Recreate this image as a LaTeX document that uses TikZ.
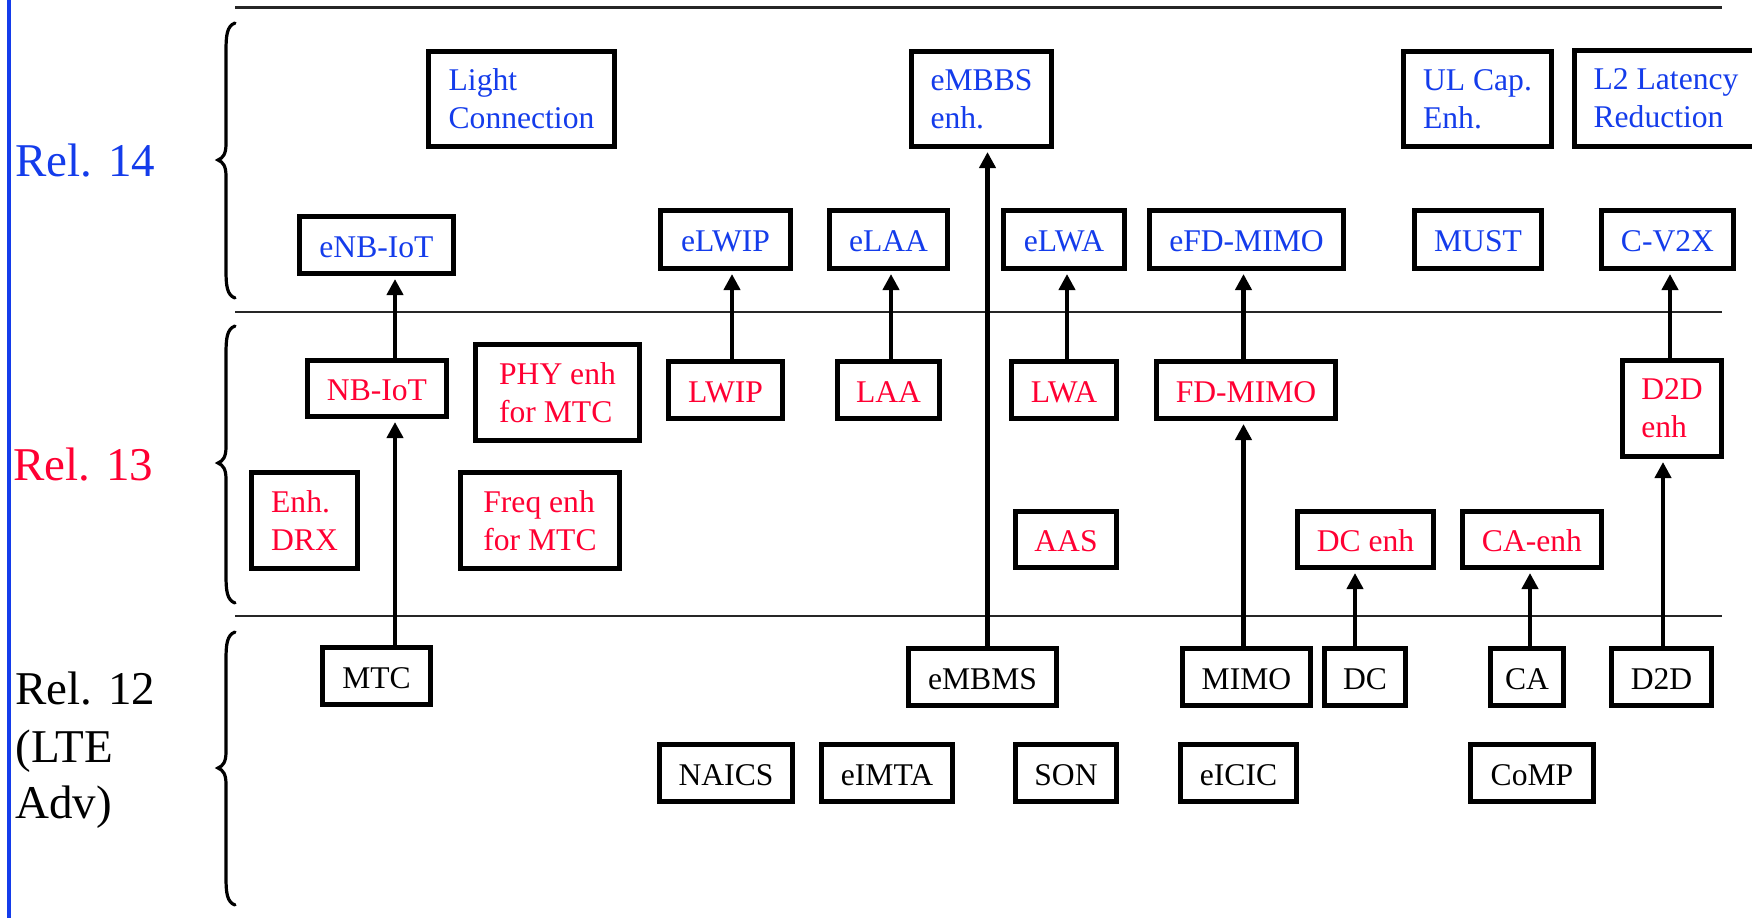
\documentclass[tikz,border=0pt]{standalone}
\usepackage{fontspec}
\setmainfont{Liberation Serif}
\usetikzlibrary{arrows.meta}
\definecolor{relblue}{RGB}{20,60,235}
\definecolor{relred}{RGB}{255,0,51}
\tikzset{
  bx/.style 2 args={draw, line width=2.5pt, inner sep=0pt, align=left,
    font=\fontsize{15.8}{19}\selectfont,
    minimum width={#1*0.5pt-2.5pt}, minimum height={#2*0.5pt-2.5pt}},
  sl/.style={text height=12pt, text depth=0pt},
  b14/.style={text=relblue},
  b13/.style={text=relred},
  b12/.style={text=black},
  up/.style={line width=2.4pt, -{Triangle[width=8pt,length=8pt]}, shorten >=1.5pt},
  sep/.style={line width=1.1pt, black!85},
  brc/.style={line width=1.6pt, line cap=round},
  rel/.style={anchor=base west, inner sep=0pt, font=\fontsize{23.5}{28.5}\selectfont}
}
\begin{document}
\begin{tikzpicture}[x=0.5pt,y=-0.5pt]
\clip (0,0) rectangle (1752,918);
\fill[white] (0,0) rectangle (1752,918);

% left blue bar
\draw[relblue, line width=2pt] (8.5,0) -- (8.5,918);

% separators
\draw[sep] (235,7.5) -- (1722,7.5);
\draw[sep] (235,312) -- (1722,312);
\draw[sep] (235,616) -- (1722,616);

% braces
\foreach \t/\m/\b in {23/160/298, 326/463/603, 632/768/905}{
  \draw[brc] (235,\t) .. controls (227,\t+3) and (226,\t+12) .. (226,\t+28)
    -- (226,\m-16) .. controls (226,\m-6) and (223,\m-2) .. (218,\m)
    .. controls (223,\m+2) and (226,\m+6) .. (226,\m+16)
    -- (226,\b-28) .. controls (226,\b-12) and (227,\b-3) .. (235,\b);
}

% release labels
\node[rel, text=relblue] (r14) at (15,176) {Rel. 14};
\node[rel, text=relred] (r13) at (13,480) {Rel. 13};
\node[rel] (r12a) at (15,704) {Rel. 12};
\node[rel] (r12b) at (15,762) {(LTE};
\node[rel] (r12c) at (15,818) {Adv)};

% Rel. 14
\node[bx={191}{100}, b14] (LC) at (521.5,99) {Light\\Connection};
\node[bx={145}{100}, b14] (eMBBS) at (981.5,99) {eMBBS\\enh.};
\node[bx={153}{100}, b14] (ULC) at (1477.5,99) {UL Cap.\\Enh.};
\node[bx={188}{101}, b14] (L2) at (1666,98.5) {L2 Latency\\Reduction};

\node[bx={159}{62}, b14, sl] (eNBIoT) at (376.5,245) {eNB-IoT};
\node[bx={135}{63}, b14, sl] (eLWIP) at (725.5,239.5) {eLWIP};
\node[bx={123}{63}, b14, sl] (eLAA) at (888.5,239.5) {eLAA};
\node[bx={126}{63}, b14, sl] (eLWA) at (1064,239.5) {eLWA};
\node[bx={199}{63}, b14, sl] (eFDMIMO) at (1246.5,239.5) {eFD-MIMO};
\node[bx={132}{63}, b14, sl] (MUST) at (1478,239.5) {MUST};
\node[bx={137}{63}, b14, sl] (CV2X) at (1667.5,239.5) {C-V2X};

% Rel. 13
\node[bx={144}{61}, b13, sl] (NBIoT) at (377,388.5) {NB-IoT};
\node[bx={169}{101}, b13] (PHY) at (557.5,392.5) {PHY enh\\for MTC};
\node[bx={119}{62}, b13, sl] (LWIP) at (725.5,390) {LWIP};
\node[bx={107}{62}, b13, sl] (LAA) at (888.5,390) {LAA};
\node[bx={110}{62}, b13, sl] (LWA) at (1064,390) {LWA};
\node[bx={184}{62}, b13, sl] (FDMIMO) at (1246,390) {FD-MIMO};
\node[bx={104}{101}, b13] (D2Denh) at (1672,408.5) {D2D\\enh};
\node[bx={111}{101}, b13] (EnhDRX) at (304.5,520.5) {Enh.\\DRX};
\node[bx={164}{101}, b13] (Freq) at (540,520.5) {Freq enh\\for MTC};
\node[bx={106}{61}, b13, sl] (AAS) at (1066,539.5) {AAS};
\node[bx={141}{61}, b13, sl] (DCenh) at (1365.5,539.5) {DC enh};
\node[bx={144}{61}, b13, sl] (CAenh) at (1532,539.5) {CA-enh};

% Rel. 12
\node[bx={113}{62}, b12, sl] (MTC) at (376.5,676) {MTC};
\node[bx={153}{62}, b12, sl] (eMBMS) at (982.5,677) {eMBMS};
\node[bx={133}{62}, b12, sl] (MIMO) at (1246.5,677) {MIMO};
\node[bx={86}{62}, b12, sl] (DC) at (1365,677) {DC};
\node[bx={78}{62}, b12, sl] (CA) at (1527,677) {CA};
\node[bx={105}{62}, b12, sl] (D2D) at (1661.5,677) {D2D};
\node[bx={138}{62}, b12, sl] (NAICS) at (726,773) {NAICS};
\node[bx={136}{62}, b12, sl] (eIMTA) at (887,773) {eIMTA};
\node[bx={106}{62}, b12, sl] (SON) at (1066,773) {SON};
\node[bx={121}{62}, b12, sl] (eICIC) at (1238.5,773) {eICIC};
\node[bx={128}{62}, b12, sl] (CoMP) at (1532,773) {CoMP};

% arrow columns
\coordinate (xa) at (395,0);
\coordinate (xb) at (732,0);
\coordinate (xc) at (891,0);
\coordinate (xd) at (987.5,0);
\coordinate (xe) at (1067,0);
\coordinate (xf) at (1243.5,0);
\coordinate (xg) at (1355,0);
\coordinate (xh) at (1530,0);
\coordinate (xi) at (1663,0);
\coordinate (xj) at (1670,0);

% connectors
\draw[up] (MTC.north -| xa) -- (NBIoT.south -| xa);
\draw[up] (NBIoT.north -| xa) -- (eNBIoT.south -| xa);
\draw[up] (LWIP.north -| xb) -- (eLWIP.south -| xb);
\draw[up] (LAA.north -| xc) -- (eLAA.south -| xc);
\draw[up] (eMBMS.north -| xd) -- (eMBBS.south -| xd);
\draw[up] (LWA.north -| xe) -- (eLWA.south -| xe);
\draw[up] (MIMO.north -| xf) -- (FDMIMO.south -| xf);
\draw[up] (FDMIMO.north -| xf) -- (eFDMIMO.south -| xf);
\draw[up] (DC.north -| xg) -- (DCenh.south -| xg);
\draw[up] (CA.north -| xh) -- (CAenh.south -| xh);
\draw[up] (D2D.north -| xi) -- (D2Denh.south -| xi);
\draw[up] (D2Denh.north -| xj) -- (CV2X.south -| xj);
\end{tikzpicture}
\end{document}
